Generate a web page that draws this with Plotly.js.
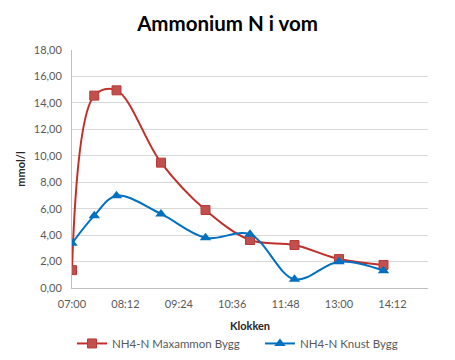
<!DOCTYPE html>
<html>
<head>
<meta charset="utf-8">
<script src="https://cdn.plot.ly/plotly-3.0.1.min.js"></script>
<style>html,body{margin:0;padding:0;background:#fff;}#chart{width:455px;height:360px;}</style>
</head>
<body>
<div id="chart"></div>
<script>
var times = ["07:00", "07:30", "08:00", "09:00", "10:00", "11:00", "12:00", "13:00", "14:00"];
var maxammon = [1.35, 14.55, 14.95, 9.48, 5.90, 3.63, 3.25, 2.19, 1.74];
var knust = [3.38, 5.47, 6.98, 5.60, 3.80, 4.06, 0.66, 1.99, 1.31];
var seriesNames = ["NH4-N Maxammon Bygg", "NH4-N Knust Bygg"];

var day = "2000-01-01 ";
var xs = times.map(function (t) { return day + t; });
var font = "Lato, 'Open Sans', sans-serif";

var traces = [
  {
    x: xs, y: maxammon, name: seriesNames[0], type: "scatter", mode: "lines+markers", legend: "legend",
    line: {color: "#C0302B", width: 2, shape: "spline", smoothing: 1},
    marker: {symbol: "square", size: 9, color: "#C0504D", line: {color: "#B83A37", width: 1}}
  },
  {
    x: xs, y: knust, name: seriesNames[1], type: "scatter", mode: "lines+markers", legend: "legend2",
    line: {color: "#0070C0", width: 2, shape: "spline", smoothing: 1},
    marker: {symbol: "triangle-up", size: 10, color: "#0070C0", line: {color: "#0070C0", width: 0}}
  }
];

var legendFont = {family: font, size: 11.5, color: "#595959"};
var layout = {
  width: 455, height: 360,
  margin: {l: 72, r: 27, t: 50, b: 72, autoexpand: false},
  paper_bgcolor: "#fff", plot_bgcolor: "#fff",
  separators: ", ",
  font: {family: font, size: 11, color: "#595959"},
  title: {text: "Ammonium N i vom", x: 0.5, xanchor: "center", y: 0.935, yanchor: "middle",
          font: {family: font, size: 20.5, color: "#000", weight: "bold"}},
  xaxis: {
    type: "date",
    range: [day + "07:00", day + "15:00"],
    tick0: day + "07:00", dtick: 72 * 60 * 1000, tickformat: "%H:%M",
    showgrid: false, showline: true, linecolor: "#BFBFBF", linewidth: 1,
    ticks: "", zeroline: false, ticklabelstandoff: 6,
    tickfont: {family: font, size: 11, color: "#595959"},
    title: {text: "Klokken", font: {family: font, size: 11, color: "#262626", weight: "bold"}, standoff: 13}
  },
  yaxis: {
    range: [0, 18], dtick: 2, tickformat: ".2f",
    showgrid: true, gridcolor: "#D9D9D9", gridwidth: 1,
    showline: true, linecolor: "#BFBFBF", linewidth: 1,
    ticks: "", zeroline: false, ticklabelstandoff: 7,
    tickfont: {family: font, size: 11, color: "#595959"},
    title: {text: "mmol/l", font: {family: font, size: 11, color: "#262626", weight: "bold"}, standoff: 5}
  },
  showlegend: true,
  legend: {orientation: "h", x: 0.0, xanchor: "left", y: -0.233, yanchor: "middle",
           font: legendFont, bgcolor: "rgba(0,0,0,0)"},
  legend2: {orientation: "h", x: 0.528, xanchor: "left", y: -0.233, yanchor: "middle",
           font: legendFont, bgcolor: "rgba(0,0,0,0)"}
};

Plotly.newPlot("chart", traces, layout, {displayModeBar: false, staticPlot: true});
</script>
</body>
</html>
